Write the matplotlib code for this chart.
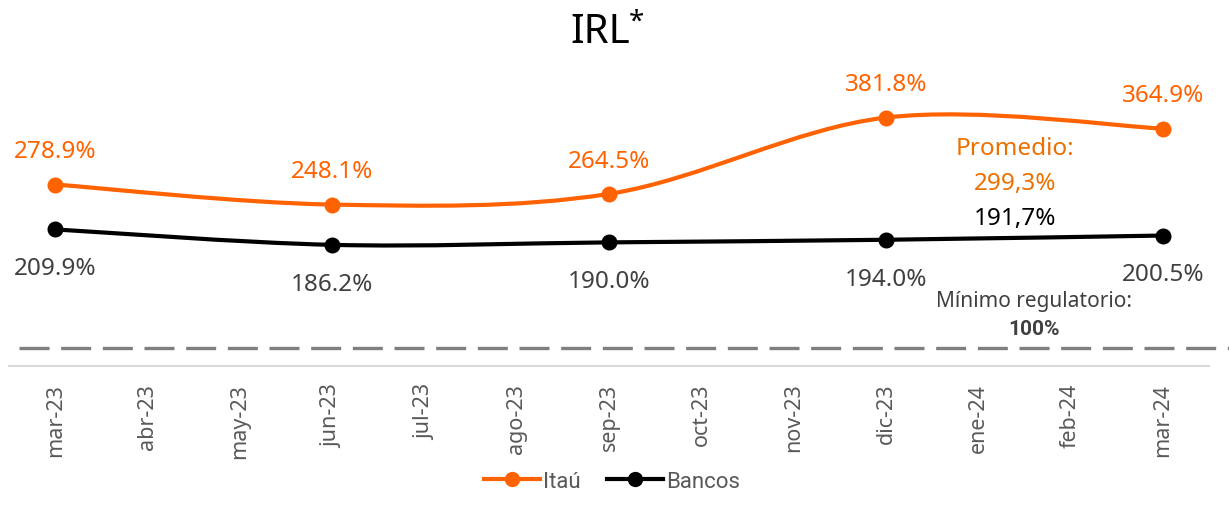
import numpy as np
import matplotlib
matplotlib.use('Agg')
import matplotlib.pyplot as plt
from matplotlib.path import Path
from matplotlib.patches import PathPatch
from matplotlib.lines import Line2D

# --- data ---
months = ['mar-23', 'abr-23', 'may-23', 'jun-23', 'jul-23', 'ago-23', 'sep-23',
          'oct-23', 'nov-23', 'dic-23', 'ene-24', 'feb-24', 'mar-24']
obs_idx = [0, 3, 6, 9, 12]   # months with values
itau = [278.9, 248.1, 264.5, 381.8, 364.9]
bancos = [209.9, 186.2, 190.0, 194.0, 200.5]
prom_itau = '299,3%'
prom_bancos = '191,7%'
min_reg_text = '100%'
min_reg_line = 27.7   # dashed line level as drawn on the axis

c_itau = '#FF6200'
c_prom = '#EC7000'
c_bancos = '#000000'
c_lab = '#404040'
c_tick = '#595959'

plt.rcParams['font.family'] = ['Noto Sans', 'DejaVu Sans']


def smooth_path(xs, ys):
    # excel-like smoothed line (catmull-rom as cubic bezier)
    P = np.column_stack([xs, ys]).astype(float)
    n = len(P)
    verts = [P[0]]
    codes = [Path.MOVETO]
    for i in range(n - 1):
        p0 = P[i - 1] if i > 0 else P[i]
        p3 = P[i + 2] if i + 2 < n else P[i + 1]
        c1 = P[i] + (P[i + 1] - p0) / 6.0
        c2 = P[i + 1] - (p3 - P[i]) / 6.0
        verts += [c1, c2, P[i + 1]]
        codes += [Path.CURVE4] * 3
    return Path(verts, codes)


fig = plt.figure(figsize=(12.29, 5.10), dpi=100)
ax = fig.add_axes([9 / 1229, 143 / 510, 1200 / 1229, 292.8 / 510])
ax.set_xlim(-0.5, 12.5)
ax.set_ylim(0, 450)

for vals, col in [(itau, c_itau), (bancos, c_bancos)]:
    ax.add_patch(PathPatch(smooth_path(obs_idx, vals), fill=False, edgecolor=col,
                           lw=3.0, capstyle='round', zorder=3))
    ax.plot(obs_idx, vals, 'o', color=col, ms=10.5, zorder=4)

# data labels
for x, v in zip(obs_idx, itau):
    ax.annotate(f'{v:.1f}%', (x, v), xytext=(0, 24), textcoords='offset points',
                ha='center', va='center', color=c_itau, fontsize=17.5)
for x, v in zip(obs_idx, bancos):
    ax.annotate(f'{v:.1f}%', (x, v), xytext=(0, -28), textcoords='offset points',
                ha='center', va='center', color=c_lab, fontsize=17.5)

# averages
ax.text(10.4, 335, 'Promedio:', ha='center', va='center', color=c_prom, fontsize=17.5)
ax.text(10.4, 281, prom_itau, ha='center', va='center', color=c_prom, fontsize=17.5)
ax.text(10.4, 228, prom_bancos, ha='center', va='center', color='black', fontsize=17.5)

# regulatory minimum
ax.axhline(min_reg_line, xmin=10 / 1200, xmax=1220 / 1200, color='#7f7f7f', lw=2.4,
           dashes=(9, 3.5), clip_on=False, zorder=2)
ax.text(10.6, 101, 'Mínimo regulatorio:', ha='center', va='center', color=c_lab, fontsize=15)
ax.text(10.6, 57, min_reg_text, ha='center', va='center', color=c_lab, fontsize=15,
        family='Roboto', fontweight='bold')

# axes
for s in ['top', 'left', 'right']:
    ax.spines[s].set_visible(False)
ax.spines['bottom'].set_color('#d9d9d9')
ax.spines['bottom'].set_linewidth(1.5)
ax.set_yticks([])
ax.set_xticks(range(len(months)))
ax.set_xticklabels(months, rotation=90, color=c_tick, fontsize=15.5)
ax.tick_params(axis='x', length=0, pad=12)

# title
fig.text(0.488, 0.935, 'IRL', ha='center', va='center', fontsize=29)
fig.text(0.5175, 0.955, '*', ha='center', va='center', fontsize=20)

# legend
handles = [Line2D([], [], color=c_itau, lw=3, marker='o', ms=10),
           Line2D([], [], color=c_bancos, lw=3, marker='o', ms=10)]
leg = fig.legend(handles, ['Itaú', 'Bancos'], loc='lower center', bbox_to_anchor=(0.498, -0.005),
                 ncol=2, frameon=False, handlelength=2.5, columnspacing=1.2, handletextpad=0.15,
                 prop={'family': 'Roboto', 'size': 16})
for t in leg.get_texts():
    t.set_color(c_tick)

fig.savefig('out.png', dpi=100)
